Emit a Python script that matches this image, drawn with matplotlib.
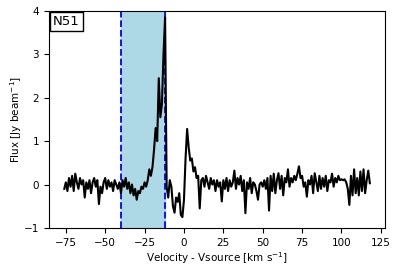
import numpy as np
import matplotlib
matplotlib.use("Agg")
import matplotlib.pyplot as plt
from matplotlib.offsetbox import AnchoredText

# velocity axis (km/s), 1 km/s channels
velocity = np.arange(-76, 119, 1)

# flux values
flux_a = [-0.10, 0.05, -0.15, 0.15, -0.05, 0.20, -0.15, 0.25, 0.05, -0.10,
          0.15, 0.00, 0.10, -0.30, 0.05, -0.10, 0.10, -0.20, 0.05, 0.15,
          -0.05, 0.10, -0.45, -0.05, -0.20, 0.05, 0.15, -0.10, 0.10, -0.05,
          0.05, -0.15, 0.10, 0.00, -0.10, 0.05]            # -76 .. -41
flux_b = [-0.20, 0.10, -0.05, 0.15, -0.10, 0.05, -0.20, 0.00, -0.25, -0.10,
          -0.35, -0.15, -0.20, -0.05, -0.10, 0.05, -0.05, 0.10, 0.35, 0.20,
          0.40, 0.80, 1.30, 1.00, 2.45, 1.55, 1.85, 3.00, 3.85]  # -40 .. -12
flux_c = [-0.05, -0.30, 0.10, -0.05, -0.50, -0.65, -0.30, -0.40, -0.20, -0.70,
          -0.75, -0.35, 0.60, 1.28, 0.85, 0.55, 0.60, 0.30, 0.40, 0.15,
          0.20, -0.55, 0.10, 0.15, -0.05, 0.20, 0.05, -0.10, 0.15, 0.00,
          0.10, -0.15, 0.10, -0.05, 0.05, -0.39, 0.10]      # -11 .. 25
flux_d = [-0.10, 0.15, -0.15, 0.10, -0.05, 0.05, 0.32, -0.10, 0.15, 0.00,
          0.20, -0.15, 0.10, -0.66, 0.05, -0.10, 0.15, -0.20, 0.05, 0.00,
          -0.15, -0.35, 0.00, 0.05, -0.05, 0.10, -0.10, 0.15, -0.60, 0.20,
          -0.15, 0.25, -0.20, 0.10, 0.26, -0.10, 0.20, -0.25, 0.15, 0.05,
          0.35, -0.05, 0.15, 0.05, 0.20, 0.10, 0.25, 0.42, 0.15, 0.20,
          -0.05, 0.05, -0.28, 0.10, 0.00, 0.20, -0.20, 0.26, 0.05, -0.15,
          0.20, -0.10, 0.15, -0.05, 0.20, -0.15, 0.10, 0.05, 0.25, -0.05,
          0.15, 0.05, 0.20, 0.10, 0.12, 0.10, 0.12, 0.05, -0.10, -0.47,
          0.20, -0.25, 0.35, -0.20, 0.15, -0.25, 0.30, -0.15, 0.35, -0.20,
          0.10, 0.32, 0.03]                                 # 26 .. 118
flux = np.array(flux_a + flux_b + flux_c + flux_d)

# integration window
vmin, vmax = -40, -12
label = "N51"

fig = plt.figure(figsize=(3.95, 2.72), dpi=100)
ax = fig.add_axes([0.124, 0.162, 0.851, 0.798])

ax.axvspan(vmin, vmax, color="lightblue")
ax.axvline(vmin, color="blue", ls="--", lw=1.3)
ax.axvline(vmax, color="blue", ls="--", lw=1.3)
ax.plot(velocity, flux, color="black", lw=1.5)

ax.set_ylim(-1, 4)
ax.set_yticks([-1, 0, 1, 2, 3, 4])
ax.set_xticks([-75, -50, -25, 0, 25, 50, 75, 100, 125])
ax.tick_params(labelsize=7.5)
ax.set_xlabel("Velocity - Vsource [km s$^{-1}$]", fontsize=7.5, labelpad=2)
ax.set_ylabel("Flux [Jy beam$^{-1}$]", fontsize=7.5, labelpad=0)

at = AnchoredText(label, loc="upper left", borderpad=0.05, pad=0.25,
                  prop=dict(size=9.5))
at.patch.set_boxstyle("square,pad=0")
ax.add_artist(at)

fig.savefig("out.png", dpi=100)
